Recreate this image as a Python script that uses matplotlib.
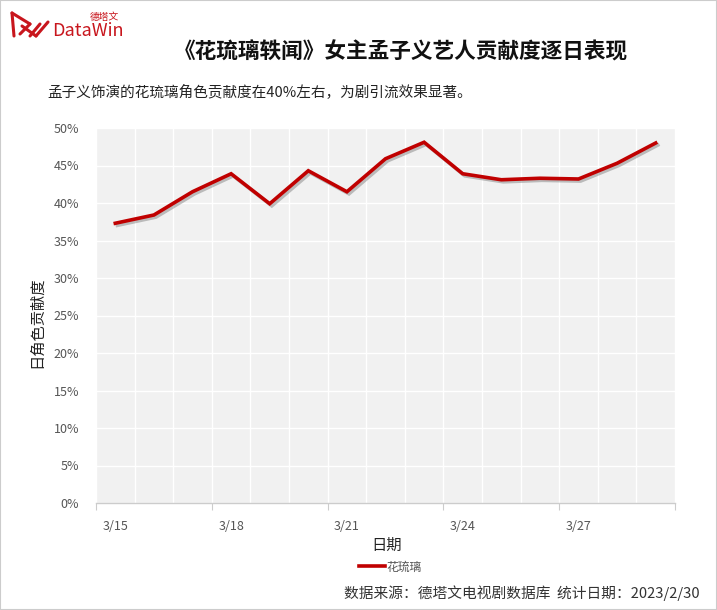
import matplotlib
matplotlib.use("Agg")
import matplotlib.pyplot as plt
import matplotlib.patheffects as pe
from matplotlib.ticker import FixedLocator, NullFormatter
from matplotlib.lines import Line2D
import numpy as np

plt.rcParams['font.family'] = ['Noto Sans CJK SC', 'DejaVu Sans']

dates = ["3/15", "3/16", "3/17", "3/18", "3/19", "3/20", "3/21", "3/22",
         "3/23", "3/24", "3/25", "3/26", "3/27", "3/28", "3/29"]
values = [37.3, 38.4, 41.5, 43.9, 39.9, 44.3, 41.5, 45.9,
          48.1, 43.9, 43.1, 43.3, 43.2, 45.3, 48.0]
series_name = "花琉璃"
title = "《花琉璃轶闻》女主孟子义艺人贡献度逐日表现"
subtitle = "孟子义饰演的花琉璃角色贡献度在40%左右，为剧引流效果显著。"
xlabel = "日期"
ylabel = "日角色贡献度"
footer = "数据来源：德塔文电视剧数据库  统计日期：2023/2/30"
yticks = [0, 5, 10, 15, 20, 25, 30, 35, 40, 45, 50]

W, H = 717, 610
fig = plt.figure(figsize=(W / 100, H / 100), dpi=100)
fig.patch.set_facecolor('white')

left, right, bottom, top = 96, 675, 503, 128
ax = fig.add_axes([left / W, 1 - bottom / H, (right - left) / W, (bottom - top) / H])
ax.set_facecolor('#f1f1f1')

n = len(dates)
x = np.arange(n)
ax.set_xlim(-0.5, n - 0.5)
ax.set_ylim(0, 50)

# grid
for b in np.arange(n + 1) - 0.5:
    ax.axvline(b, color='white', lw=1.0, zorder=1)
for yv in yticks:
    ax.axhline(yv, color='white', lw=1.0, zorder=1)

line, = ax.plot(x, values, color='#c00000', lw=2.6, zorder=3, solid_joinstyle='miter',
                path_effects=[pe.SimpleLineShadow(offset=(1.5, -1.5), shadow_color='#777777', alpha=0.45),
                              pe.Normal()], label=series_name)

for s in ['top', 'right', 'left']:
    ax.spines[s].set_visible(False)
ax.spines['bottom'].set_color('#cccccc')
ax.spines['bottom'].set_linewidth(1)

ax.set_yticks(yticks)
ax.set_yticklabels([f"{v}%" for v in yticks], fontsize=9, color='#555555')
ax.tick_params(axis='y', length=0, pad=12)

ax.xaxis.set_major_locator(FixedLocator(np.arange(0, n + 1, 3) - 0.5))
ax.xaxis.set_major_formatter(NullFormatter())
ax.tick_params(axis='x', which='major', length=5, color='#cccccc')
for i in range(0, n, 3):
    ax.text(i, -0.045, dates[i], transform=ax.get_xaxis_transform(), ha='center', va='top',
            fontsize=9, color='#555555')

fig.text(387 / W, 1 - 545 / H, xlabel, ha='center', va='center', fontsize=11, color='#222222')
fig.text(37 / W, 1 - 322 / H, ylabel, ha='center', va='center', rotation=90, fontsize=11, color='#222222')

# legend
handle = Line2D([], [], color='#c00000', lw=2.6)
fig.legend(handles=[handle], labels=[series_name], loc='center', bbox_to_anchor=(390 / W, 1 - 567 / H),
           frameon=False, fontsize=8.5, handlelength=2.2, handletextpad=0.1,
           labelcolor='#555555')

fig.text(401 / W, 1 - 52 / H, title, ha='center', va='center', fontsize=15.6, fontweight='bold', color='#111111')
fig.text(47 / W, 1 - 92 / H, subtitle, ha='left', va='center', fontsize=10.5, color='#222222')
fig.text(700 / W, 1 - 593 / H, footer, ha='right', va='center', fontsize=10.6, color='#333333')

# logo
red = '#c8161d'
fig.text(52 / W, 1 - 31 / H, "DataWin", ha='left', va='center', fontsize=13, color=red)
fig.text(90 / W, 1 - 17 / H, "德塔文", ha='left', va='center', fontsize=7, color=red)
logo_lines = [
    [(12, 13), (14, 36)],
    [(12, 13), (30, 24)],
    [(30, 24), (20, 34)],
    [(22, 26), (36, 36)],
    [(30, 36), (40, 24)],
    [(36, 36), (48, 22)],
]
for pts in logo_lines:
    xs = [p[0] / W for p in pts]
    ys = [1 - p[1] / H for p in pts]
    fig.add_artist(Line2D(xs, ys, color=red, lw=2.2, transform=fig.transFigure,
                          solid_capstyle='round'))

# border
fig.add_artist(plt.Rectangle((0, 0), 1, 1, transform=fig.transFigure, fill=False,
                             edgecolor='#cccccc', lw=1.5))

fig.savefig("out.png", dpi=100, facecolor='white')
